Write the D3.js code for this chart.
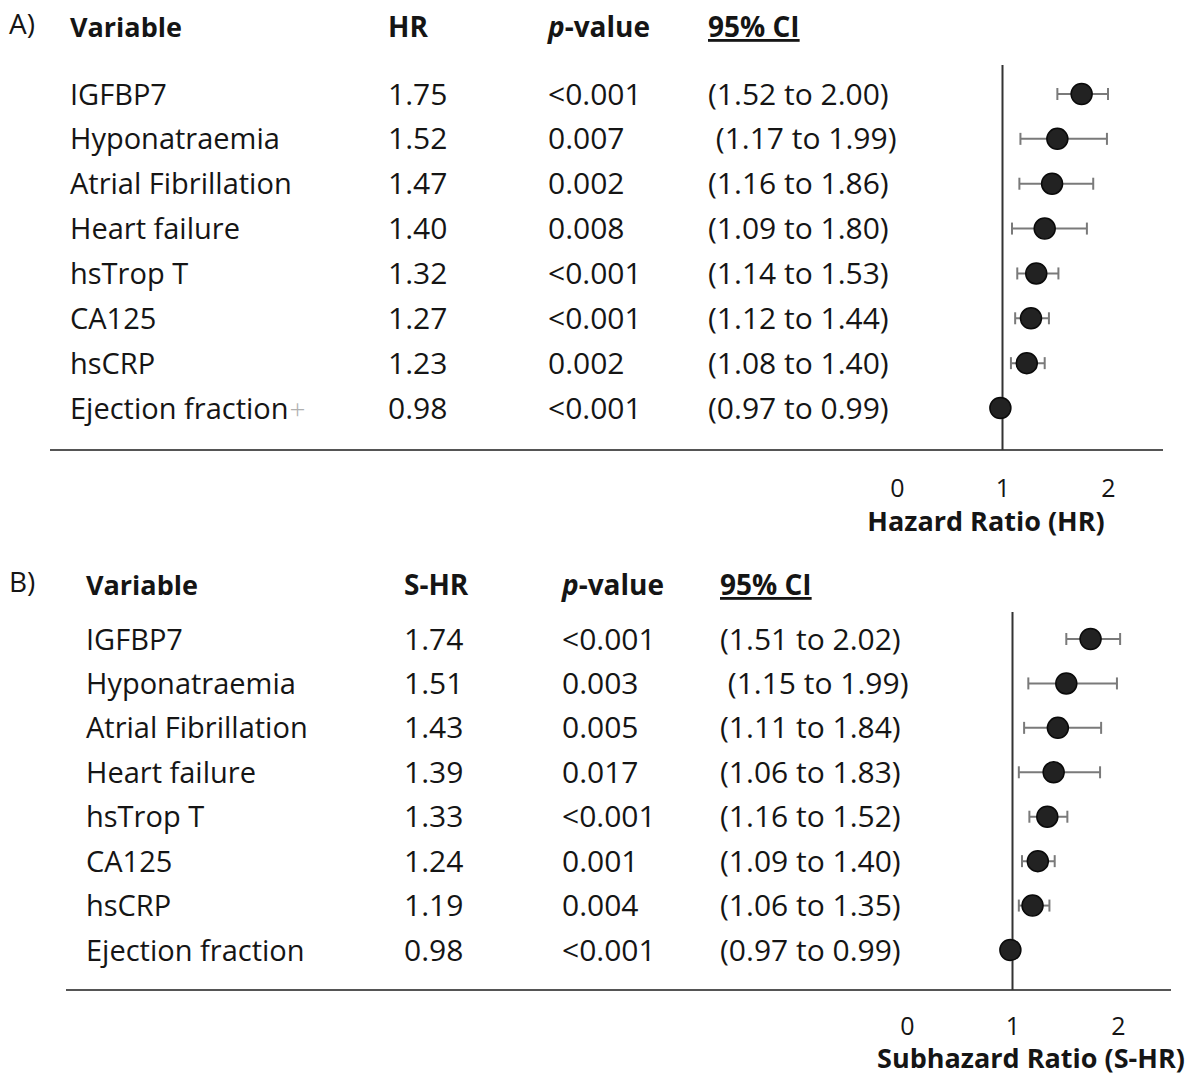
<!DOCTYPE html>
<html>
<head>
<meta charset="utf-8">
<script src="https://cdn.jsdelivr.net/npm/d3@7"></script>
<style>
  html, body { margin: 0; padding: 0; background: #fff; }
  svg text { font-family: "Open Sans", "Noto Sans", sans-serif; fill: #151515; white-space: pre; }
</style>
</head>
<body>
<svg id="chart" width="1197" height="1077"></svg>
<script>
// Shared row labels
const variables = ["IGFBP7", "Hyponatraemia", "Atrial Fibrillation", "Heart failure",
                   "hsTrop T", "CA125", "hsCRP", "Ejection fraction"];

// Panel A: Cox model hazard ratios
const hrA   = [1.75, 1.52, 1.47, 1.40, 1.32, 1.27, 1.23, 0.98];
const pA    = ["<0.001", "0.007", "0.002", "0.008", "<0.001", "<0.001", "0.002", "<0.001"];
const loA   = [1.52, 1.17, 1.16, 1.09, 1.14, 1.12, 1.08, 0.97];
const hiA   = [2.00, 1.99, 1.86, 1.80, 1.53, 1.44, 1.40, 0.99];

// Panel B: competing-risk subhazard ratios
const hrB   = [1.74, 1.51, 1.43, 1.39, 1.33, 1.24, 1.19, 0.98];
const pB    = ["<0.001", "0.003", "0.005", "0.017", "<0.001", "0.001", "0.004", "<0.001"];
const loB   = [1.51, 1.15, 1.11, 1.06, 1.16, 1.09, 1.06, 0.97];
const hiB   = [2.02, 1.99, 1.84, 1.83, 1.52, 1.40, 1.35, 0.99];

// Leading padding used in the CI column text
const ciLead = ["", " ", "", "", "", "", "", ""];

const axisTicks = [0, 1, 2];

const svg = d3.select("#chart");
const fmt = d3.format(".2f");

function drawPanel(cfg) {
  const g = svg.append("g");
  const rows = variables.map((v, i) => ({
    name: v, hr: cfg.hr[i], p: cfg.p[i], lo: cfg.lo[i], hi: cfg.hi[i], lead: ciLead[i]
  }));

  const x = d3.scaleLinear().domain([0, 2]).range([cfg.x0, cfg.x2]);
  const y = d3.scalePoint().domain(variables).range([cfg.yTop, cfg.yBottom]);
  const nameFs = 29, numFs = 30, capShift = 10.5;

  // Panel tag
  g.append("text").attr("x", 9).attr("y", cfg.headY - 3)
    .attr("font-size", 28).text(cfg.tag);

  // Column headers
  const head = g.append("g").attr("font-size", 28).attr("font-weight", 700);
  head.append("text").attr("x", cfg.colVar).attr("y", cfg.headY)
    .attr("font-size", 27).text("Variable");
  head.append("text").attr("x", cfg.colHR).attr("y", cfg.headY).text(cfg.hrHead);
  const pt = head.append("text").attr("x", cfg.colP).attr("y", cfg.headY);
  pt.append("tspan").attr("font-style", "italic").text("p");
  pt.append("tspan").text("-value");
  head.append("text").attr("x", cfg.colCI).attr("y", cfg.headY)
    .attr("text-decoration", "underline").text("95% CI");

  // Table body
  const rowG = g.append("g").selectAll("g.row").data(rows).join("g").attr("class", "row")
    .attr("transform", d => `translate(0,${y(d.name) + capShift})`);
  rowG.append("text").attr("x", cfg.colVar).attr("font-size", nameFs).text(d => d.name);
  rowG.append("text").attr("x", cfg.colHR).attr("font-size", numFs).text(d => fmt(d.hr));
  rowG.append("text").attr("x", cfg.colP).attr("font-size", numFs).text(d => d.p);
  rowG.append("text").attr("x", cfg.colCI).attr("font-size", numFs)
    .text(d => `${d.lead}(${fmt(d.lo)} to ${fmt(d.hi)})`);

  // Baseline rule under the table
  g.append("line").attr("x1", cfg.ruleX1).attr("x2", cfg.ruleX2)
    .attr("y1", cfg.ruleY).attr("y2", cfg.ruleY)
    .attr("stroke", "#555").attr("stroke-width", 2);

  // Reference line at ratio = 1
  g.append("line").attr("x1", x(1)).attr("x2", x(1))
    .attr("y1", cfg.refTop).attr("y2", cfg.ruleY)
    .attr("stroke", "#333").attr("stroke-width", 2);

  // Confidence intervals
  const capH = 6;
  const err = g.append("g").attr("stroke", "#7a7a7a").attr("stroke-width", 2);
  err.selectAll("line.ci").data(rows).join("line").attr("class", "ci")
    .attr("x1", d => x(d.lo)).attr("x2", d => x(d.hi))
    .attr("y1", d => y(d.name)).attr("y2", d => y(d.name));
  err.selectAll("line.capL").data(rows).join("line").attr("class", "capL")
    .attr("x1", d => x(d.lo)).attr("x2", d => x(d.lo))
    .attr("y1", d => y(d.name) - capH).attr("y2", d => y(d.name) + capH);
  err.selectAll("line.capR").data(rows).join("line").attr("class", "capR")
    .attr("x1", d => x(d.hi)).attr("x2", d => x(d.hi))
    .attr("y1", d => y(d.name) - capH).attr("y2", d => y(d.name) + capH);

  // Point estimates
  g.append("g").selectAll("circle").data(rows).join("circle")
    .attr("cx", d => x(d.hr)).attr("cy", d => y(d.name)).attr("r", 10.5)
    .attr("fill", "#222").attr("stroke", "#0a0a0a").attr("stroke-width", 1.5);

  // Axis tick labels (labels only, no axis line)
  const axis = d3.axisBottom(x).tickValues(axisTicks).tickSize(0).tickPadding(0)
    .tickFormat(d3.format("d"));
  const ax = g.append("g").attr("transform", `translate(0,${cfg.tickY})`).call(axis);
  ax.select(".domain").remove();
  ax.selectAll("text").attr("font-size", 25).attr("font-family", null)
    .attr("dy", null).attr("y", 0).style("fill", "#151515");

  // Axis title
  g.append("text").attr("x", cfg.titleX).attr("y", cfg.titleY)
    .attr("text-anchor", "middle").attr("font-size", 27).attr("font-weight", 700)
    .text(cfg.title);

  return { g, x, y, rowG };
}

const A = drawPanel({
  tag: "A)", hr: hrA, p: pA, lo: loA, hi: hiA, hrHead: "HR",
  colVar: 70, colHR: 388, colP: 548, colCI: 708,
  headY: 37, yTop: 94, yBottom: 408,
  x0: 897, x2: 1108, ruleX1: 50, ruleX2: 1163, ruleY: 450, refTop: 65,
  tickY: 497, titleX: 986, titleY: 531, title: "Hazard Ratio (HR)"
});

// Thin grey marker following the Ejection fraction label in panel A
const efLabel = A.rowG.filter(d => d.name === "Ejection fraction").select("text").node();
const efEnd = 70 + efLabel.getComputedTextLength();
A.g.append("text").attr("x", efEnd + 1).attr("y", A.y("Ejection fraction") + 11)
  .attr("font-size", 28).attr("font-weight", 300).style("fill", "#b0b0b0").text("+");

drawPanel({
  tag: "B)", hr: hrB, p: pB, lo: loB, hi: hiB, hrHead: "S-HR",
  colVar: 86, colHR: 404, colP: 562, colCI: 720,
  headY: 595, yTop: 639, yBottom: 950,
  x0: 907, x2: 1118, ruleX1: 66, ruleX2: 1171, ruleY: 990, refTop: 612,
  tickY: 1035, titleX: 1031, titleY: 1068, title: "Subhazard Ratio (S-HR)"
});
</script>
</body>
</html>
